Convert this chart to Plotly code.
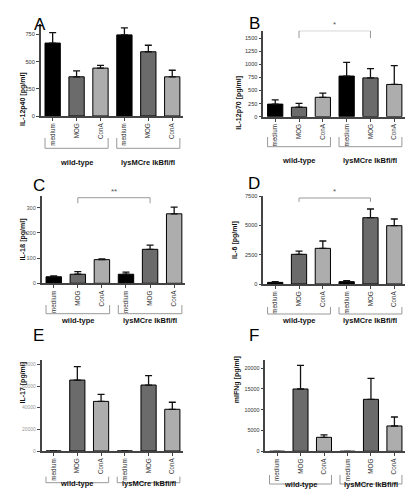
import plotly.graph_objects as go

categories = ["medium", "MOG", "ConA", "medium", "MOG", "ConA"]
groups = ["wild-type", "lysMCre IkBfl/fl"]
bar_colors = ["#000000", "#6b6b6b", "#adadad", "#000000", "#6b6b6b", "#adadad"]

A_mean = [670, 360, 440, 745, 590, 360]
A_err = [95, 55, 25, 65, 60, 60]
B_mean = [240, 180, 370, 775, 740, 615]
B_err = [80, 75, 80, 260, 175, 360]
C_mean = [26, 36, 94, 36, 135, 276]
C_err = [3, 10, 2.5, 8, 17, 27]
D_mean = [140, 2530, 3040, 200, 5650, 4970]
D_err = [60, 280, 625, 85, 740, 570]
E_mean = [0, 65500, 45800, 0, 60900, 38500]
E_err = [0, 12300, 6500, 0, 8600, 6500]
F_mean = [0, 14960, 3360, 0, 12480, 6080]
F_err = [0, 5680, 560, 0, 5040, 2160]

panel_letters = ["A", "B", "C", "D", "E", "F"]
y_titles = ["IL-12p40 [pg/ml]", "IL-12p70 [pg/ml]", "IL-1ß [pg/ml]",
            "IL-6 [pg/ml]", "IL-17 [pg/ml]", "mIFNg [pg/ml]"]
y_ticks = [[0, 250, 500, 750], [0, 250, 500, 750, 1000, 1250, 1500],
           [0, 100, 200, 300], [0, 2500, 5000, 7500],
           [0, 20000, 40000, 60000, 80000], [0, 5000, 10000, 15000, 20000]]
y_max = [845, 1640, 348, 7500, 84000, 21920]
means = [A_mean, B_mean, C_mean, D_mean, E_mean, F_mean]
errs = [A_err, B_err, C_err, D_err, E_err, F_err]

W, H = 416, 504
# panel geometry in pixels: left, right, top, zero-line
geom = [(40.7, 183, 24, 116), (263.3, 405, 30.7, 116.7),
        (41.7, 185, 195.7, 283.3), (263.3, 405, 196, 284),
        (41.7, 183, 360, 451), (265.3, 405, 360, 451.3)]
letter_pos = [(32, 13), (254, 12), (31, 185), (254, 183), (31, 347), (254, 347)]
ytitle_x = [17, 239, 16, 235, 16, 237]
ytick_size = [5.6, 5.6, 5.6, 5.6, 5, 5.4]
ytick_color = ["#333", "#333", "#555", "#333", "#999", "#333"]
group_label_y = [156, 154, 320, 320, 490, 491]
bracket_y = [(138, 148.3), (137, 146.7), (305, 313.7), (307, 314), (476.7, 482.7), (475, 484)]
# significance: panel index -> (y of bar, y of legs, label)
sig = {1: (1640, 1500, "*"), 2: (340, 318, "**"), 3: (7330, 7000, "*")}

font = "Liberation Sans, Arial, sans-serif"
fig = go.Figure()
layout = dict(width=W, height=H, margin=dict(l=0, r=0, t=0, b=0),
              paper_bgcolor="white", plot_bgcolor="white", showlegend=False,
              font=dict(family=font, color="#222"))
annotations = []
shapes = []
x_idx = list(range(6))

for i in range(6):
    n = "" if i == 0 else str(i + 1)
    xa, ya = "x" + n, "y" + n
    fig.add_trace(go.Bar(
        x=x_idx, y=means[i], xaxis=xa, yaxis=ya, width=0.64,
        marker=dict(color=bar_colors, line=dict(color="#000", width=1)),
        error_y=dict(type="data", array=errs[i], arrayminus=[0] * 6,
                     symmetric=False, color="#111", thickness=1.3, width=3.5),
    ))
    l, r, t, z = geom[i]
    layout["xaxis" + n] = dict(
        domain=[l / W, r / W], anchor=ya, range=[-0.5, 5.45], automargin=False,
        tickmode="array", tickvals=x_idx, ticktext=categories, tickangle=-90,
        tickfont=dict(size=6.3, color="#333"), ticks="outside", ticklen=3,
        tickwidth=1, tickcolor="#444", showline=True, linecolor="#444",
        linewidth=1.6, showgrid=False, zeroline=False, fixedrange=True)
    layout["yaxis" + n] = dict(
        domain=[1 - z / H, 1 - t / H], anchor=xa, range=[0, y_max[i]],
        automargin=False, tickmode="array", tickvals=y_ticks[i],
        ticktext=[str(v) for v in y_ticks[i]],
        tickfont=dict(size=ytick_size[i], color=ytick_color[i]), ticks="outside",
        ticklen=3, tickwidth=1, tickcolor="#444", showline=True, linecolor="#444",
        linewidth=1.6, showgrid=False, zeroline=False, fixedrange=True)
    # panel letter
    lx, ly = letter_pos[i]
    annotations.append(dict(text=panel_letters[i], x=lx / W, y=1 - ly / H,
                            xref="paper", yref="paper", showarrow=False,
                            font=dict(size=17, color="#000", family=font)))
    # y title
    annotations.append(dict(text="<b>" + y_titles[i] + "</b>", x=ytitle_x[i] / W,
                            y=1 - (t + z) / 2 / H, xref="paper", yref="paper",
                            textangle=-90, showarrow=False,
                            font=dict(size=7, color="#111", family=font)))
    # group brackets and labels
    b_top, b_bot = bracket_y[i]
    for g, (g0, g1) in enumerate([(-0.32, 2.32), (2.68, 5.32)]):
        shapes.append(dict(type="path", xref=xa, yref="paper",
                           path=f"M {g0},{1 - b_top / H} L {g0},{1 - b_bot / H} "
                                f"L {g1},{1 - b_bot / H} L {g1},{1 - b_top / H}",
                           line=dict(color="#999", width=1)))
        annotations.append(dict(text="<b>" + groups[g] + "</b>", x=(g0 + g1) / 2,
                                y=1 - group_label_y[i] / H, xref=xa, yref="paper",
                                showarrow=False,
                                font=dict(size=7.5, color="#111", family=font)))
    if i in sig:
        yb, yl, lab = sig[i]
        shapes.append(dict(type="path", xref=xa, yref=ya,
                           path=f"M 1,{yl} L 1,{yb} L 4,{yb} L 4,{yl}",
                           line=dict(color="#999", width=1)))
        annotations.append(dict(text=lab, x=2.5, y=yb, xref=xa, yref=ya,
                                yanchor="bottom", yshift=0, showarrow=False,
                                font=dict(size=8, color="#555", family=font)))

layout["annotations"] = annotations
layout["shapes"] = shapes
fig.update_layout(**layout)
fig.write_html("out.html", config={"displayModeBar": False},
               post_script="document.body.style.margin='0';"
                           "document.body.style.overflow='hidden';")
